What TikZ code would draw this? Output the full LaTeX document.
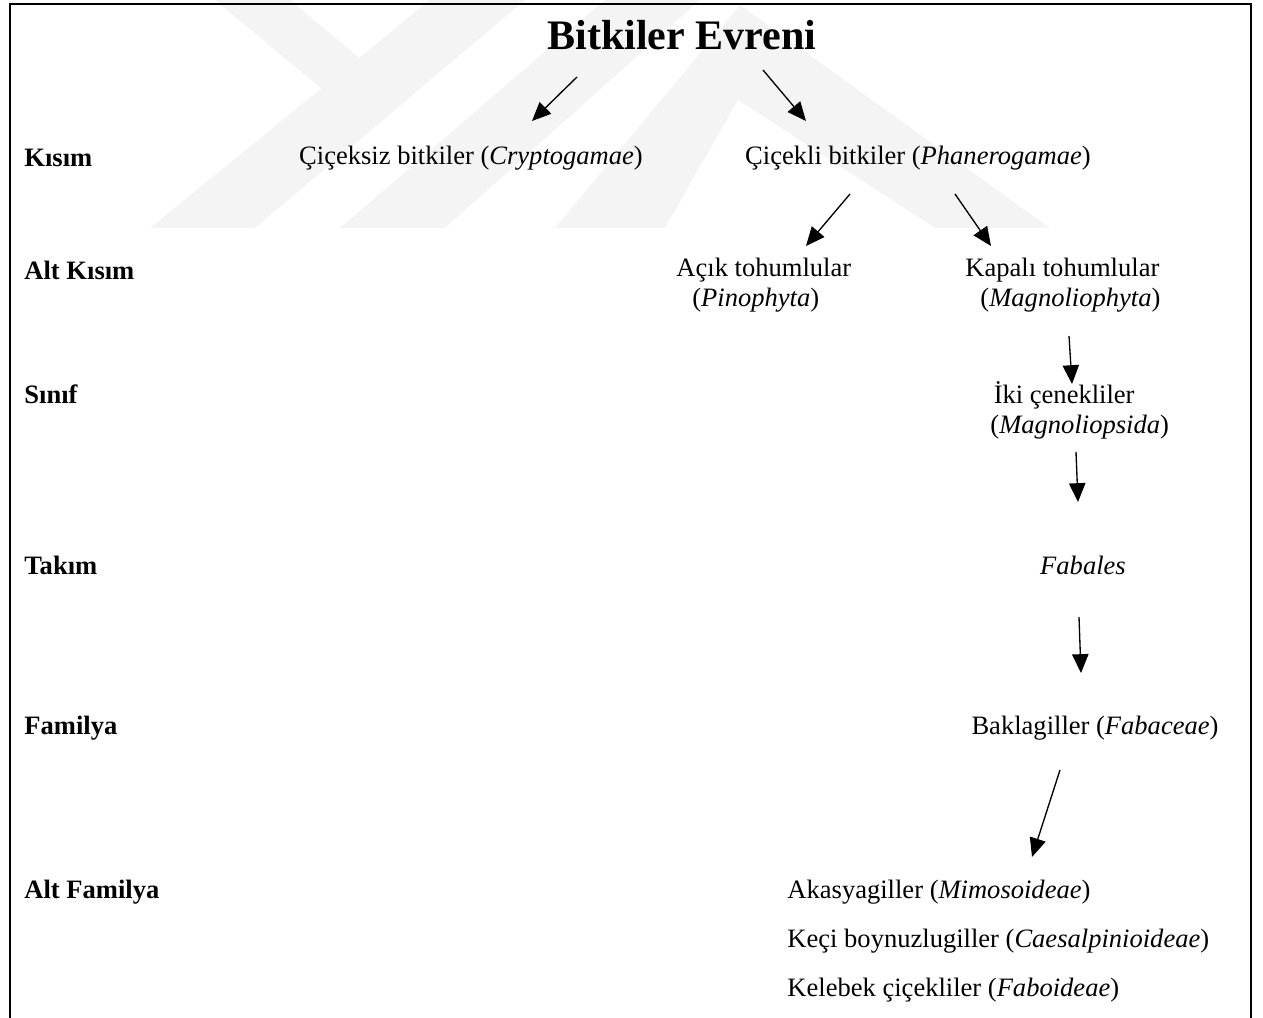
\documentclass[tikz,border=0pt]{standalone}
\usepackage{fontspec}
\setmainfont{Liberation Serif}
\usetikzlibrary{arrows.meta,calc}
\definecolor{wmgray}{gray}{0.955}
\tikzset{
  rank/.style={anchor=west, inner sep=0pt, font=\bfseries\fontsize{12}{13.6}\selectfont},
  taxon/.style={inner sep=0pt, align=left, font=\fontsize{12}{13.6}\selectfont},
  arr/.style={-{Triangle[length=8.5pt,width=7.4pt]}, line width=0.6pt}
}

\begin{document}
\begin{tikzpicture}[x=0.452pt, y=-0.452pt]
                \useasboundingbox (0,0) rectangle (1263,1018);

                %watermark in the background
                \fill[wmgray] (150,228) -- (255,228) -- (525,0) -- (430,0) -- cycle;
                \fill[wmgray] (215,0) -- (290,0) -- (405,96) -- (330,96) -- cycle;
                \fill[wmgray] (340,228) -- (445,228) -- (700,0) -- (605,0) -- cycle;
                \fill[wmgray] (555,228) -- (740,5) -- (1050,228) -- (935,228)
                    -- (738,100) -- (665,228) -- cycle;

                %frame, open at the bottom
                \draw[line width=0.9pt] (10,1018) -- (10,4) -- (1251,4) -- (1251,1018);

                %title
                \node[inner sep=0pt, font=\bfseries\fontsize{19}{22}\selectfont] (title) at (682,35) {Bitkiler Evreni};

                %ranks on the left
                \foreach \n/\y/\t in {kisim/158/Kısım, altkisim/270/Alt Kısım, sinif/394/Sınıf,
                    takim/565/Takım, familya/728/Familya, altfamilya/892/Alt Familya}
                    \node[rank] (\n) at (24,\y) {\t};

                %taxa
                \node[taxon] (crypto) at (471,158) {Çiçeksiz bitkiler (\textit{Cryptogamae})};
                \node[taxon] (phanero) at (918,158) {Çiçekli bitkiler (\textit{Phanerogamae})};
                \node[taxon, anchor=west] (acik) at (676,285)
                    {Açık tohumlular\\\hspace*{7.2pt}(\textit{Pinophyta})};
                \node[taxon, anchor=west] (kapali) at (965,285)
                    {Kapalı tohumlular\\\hspace*{6.8pt}(\textit{Magnoliophyta})};
                \node[taxon, anchor=west] (iki) at (990,410)
                    {\hspace*{1.5pt}İki çenekliler\\(\textit{Magnoliopsida})};
                \node[taxon] (fabales) at (1083,565) {\textit{Fabales}};
                \node[taxon] (bakla) at (1095,728) {Baklagiller (\textit{Fabaceae})};
                \node[taxon, anchor=west] (akasya) at (787,892) {Akasyagiller (\textit{Mimosoideae})};
                \node[taxon, anchor=west] (keci) at (787,941) {Keçi boynuzlugiller (\textit{Caesalpinioideae})};
                \node[taxon, anchor=west] (kelebek) at (787,990) {Kelebek çiçekliler (\textit{Faboideae})};

                %arrows
                \draw[arr] ($(title)+(-105,42)$) -- ($(crypto)+(61,-37)$);
                \draw[arr] ($(title)+(81,35)$) -- ($(phanero)+(-112,-37)$);
                \draw[arr] ($(phanero)+(-68,36)$) -- ($(acik.west)+(130,-39)$);
                \draw[arr] ($(phanero)+(37,36)$) -- ($(kapali.west)+(26,-39)$);
                \draw[arr] ($(kapali.west)+(104,51)$) -- ($(iki.west)+(82,-26)$);
                \draw[arr] ($(iki.west)+(86,42)$) -- ($(fabales)+(-5,-63)$);
                \draw[arr] ($(fabales)+(-4,52)$) -- ($(bakla)+(-14,-55)$);
                \draw[arr] ($(bakla)+(-35,42)$) -- ($(akasya.west)+(245,-35)$);
\end{tikzpicture}
\end{document}
